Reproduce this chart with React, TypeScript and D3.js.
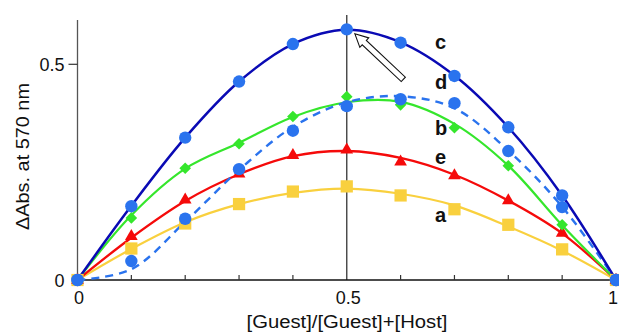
import React from "react";
import * as d3 from "d3";

const W = 619;
const H = 333;

const xValues = [0, 0.1, 0.2, 0.3, 0.4, 0.5, 0.6, 0.7, 0.8, 0.9, 1];
const xTickValues = [0, 0.5, 1];
const xMinorTicks = [0.1, 0.2, 0.3, 0.4, 0.6, 0.7, 0.8, 0.9];
const yTickValues = [0, 0.5];
const xTickLabels = ["0", "0.5", "1"];
const yTickLabels = ["0", "0.5"];

// measured points
const pointsA = [0, 0.073, 0.131, 0.176, 0.205, 0.217, 0.196, 0.164, 0.128, 0.071, 0];
const pointsB = [0, 0.144, 0.259, 0.316, 0.379, 0.425, 0.406, 0.353, 0.265, 0.128, 0];
const pointsC = [0, 0.171, 0.330, 0.460, 0.547, 0.581, 0.550, 0.473, 0.354, 0.196, 0];
const pointsD = [0, 0.044, 0.142, 0.257, 0.346, 0.403, 0.419, 0.410, 0.299, 0.169, 0];
const pointsE = [0, 0.101, 0.186, 0.246, 0.289, 0.302, 0.274, 0.242, 0.184, 0.109, 0];

// fitted curves
const fitA = [0, 0.072, 0.134, 0.176, 0.202, 0.212, 0.200, 0.173, 0.124, 0.068, 0];
const fitB = [0, 0.150, 0.258, 0.318, 0.378, 0.412, 0.413, 0.362, 0.265, 0.127, 0];
const fitC = [0, 0.172, 0.330, 0.460, 0.547, 0.580, 0.551, 0.474, 0.354, 0.196, 0];
const fitD = [0, 0.025, 0.135, 0.255, 0.355, 0.412, 0.426, 0.398, 0.300, 0.170, 0];
const fitE = [0, 0.098, 0.183, 0.245, 0.287, 0.299, 0.283, 0.244, 0.184, 0.108, 0];

const curveLabels = ["c", "d", "b", "e", "a"];
const curveLabelY = [0.535, 0.442, 0.335, 0.27, 0.135];

const arrowTip = [0.515, 0.571];
const arrowTail = [0.605, 0.465];

const BLUE_DARK = "#0a0ab4";
const BLUE = "#2a73ee";
const GREEN = "#35e62c";
const RED = "#f50a0a";
const YELLOW = "#f9d03e";
const FONT = "'Liberation Sans', Arial, Helvetica, sans-serif";

export default function App() {
  const x = d3.scaleLinear().domain([0, 1]).range([77.5, 616]);
  const y = d3.scaleLinear().domain([0, 0.5]).range([280, 64.3]);

  const line = (vals: number[]) =>
    d3
      .line<number>()
      .x((_, i) => x(xValues[i]))
      .y((v) => y(v))
      .curve(d3.curveCatmullRom.alpha(0.5))(vals) as string;

  const tri = d3.symbol().type(d3.symbolTriangle).size(70)() as string;
  const sq = d3.symbol().type(d3.symbolSquare).size(150)() as string;
  const dm = 5.8;
  const diamond = `M0,${-dm}L${dm},0L0,${dm}L${-dm},0Z`;

  // arrow geometry
  const tx = x(arrowTip[0]);
  const ty = y(arrowTip[1]);
  const bx = x(arrowTail[0]);
  const by = y(arrowTail[1]);
  const len = Math.hypot(bx - tx, by - ty);
  const ang = (Math.atan2(by - ty, bx - tx) * 180) / Math.PI;
  const hl = 13;
  const hw = 6.5;
  const sw = 3;
  const arrowPath = `M0,0L${hl},${-hw}L${hl},${-sw}L${len},${-sw}L${len},${sw}L${hl},${sw}L${hl},${hw}Z`;

  const xLabelPos = (t: number) => (t === 1 ? x(t) - 3 : x(t) + 1.5);

  return (
    <svg
      width={W}
      height={H}
      style={{ position: "absolute", left: 0, top: 0, background: "#fff" }}
      fontFamily={FONT}
    >
      <rect width={W} height={H} fill="#fff" />
      {/* axes */}
      <line x1={x(0)} x2={x(0)} y1={20} y2={y(0)} stroke="#555" strokeWidth={1.3} />
      <line x1={x(0.5)} x2={x(0.5)} y1={15} y2={y(0)} stroke="#444" strokeWidth={1.4} />
      <line x1={x(0) - 1} x2={W} y1={y(0)} y2={y(0)} stroke="#111" strokeWidth={1.5} />
      {xMinorTicks.map((t) => (
        <line key={t} x1={x(t)} x2={x(t)} y1={y(0)} y2={y(0) - 5} stroke="#333" strokeWidth={1.2} />
      ))}
      <line x1={x(0) - 9} x2={x(0)} y1={y(0.5)} y2={y(0.5)} stroke="#333" strokeWidth={1.2} />
      {xTickValues.map((t, i) => (
        <text key={t} x={xLabelPos(t)} y={303.5} fontSize={18} textAnchor="middle" fill="#111">
          {xTickLabels[i]}
        </text>
      ))}
      {yTickValues.map((t, i) => (
        <text key={t} x={64.5} y={y(t) + 6.5} fontSize={18} textAnchor="end" fill="#111">
          {yTickLabels[i]}
        </text>
      ))}
      <text
        x={347}
        y={327.5}
        fontSize={18}
        textAnchor="middle"
        fill="#111"
        textLength={201}
        lengthAdjust="spacingAndGlyphs"
      >
        [Guest]/[Guest]+[Host]
      </text>
      <text
        transform={`translate(28.5,156.5) rotate(-90)`}
        fontSize={17.5}
        textAnchor="middle"
        fill="#111"
        textLength={147}
        lengthAdjust="spacingAndGlyphs"
      >
        ΔAbs. at 570 nm
      </text>

      {/* curves */}
      <path d={line(fitA)} fill="none" stroke={YELLOW} strokeWidth={2.2} />
      <path d={line(fitE)} fill="none" stroke={RED} strokeWidth={2.3} />
      <path d={line(fitB)} fill="none" stroke={GREEN} strokeWidth={2.2} />
      <path d={line(fitD)} fill="none" stroke={BLUE} strokeWidth={2.4} strokeDasharray="8,6" />
      <path d={line(fitC)} fill="none" stroke={BLUE_DARK} strokeWidth={2.5} />

      {/* markers */}
      {pointsA.map((v, i) => (
        <path key={"a" + i} d={sq} transform={`translate(${x(xValues[i])},${y(v)})`} fill={YELLOW} />
      ))}
      {pointsE.map((v, i) => (
        <path key={"e" + i} d={tri} transform={`translate(${x(xValues[i])},${y(v)})`} fill={RED} />
      ))}
      {pointsB.map((v, i) => (
        <path key={"b" + i} d={diamond} transform={`translate(${x(xValues[i])},${y(v)})`} fill={GREEN} />
      ))}
      {pointsD.map((v, i) => (
        <circle key={"d" + i} cx={x(xValues[i])} cy={y(v)} r={6.2} fill={BLUE} />
      ))}
      {pointsC.map((v, i) => (
        <circle key={"c" + i} cx={x(xValues[i])} cy={y(v)} r={6.2} fill={BLUE} />
      ))}

      {/* arrow */}
      <path
        d={arrowPath}
        transform={`translate(${tx},${ty}) rotate(${ang})`}
        fill="#fff"
        stroke="#111"
        strokeWidth={1.1}
        strokeLinejoin="miter"
      />

      {/* curve labels */}
      {curveLabels.map((l, i) => (
        <text key={l} x={435} y={y(curveLabelY[i])} fontSize={20} fontWeight="bold" fill="#111">
          {l}
        </text>
      ))}
    </svg>
  );
}
